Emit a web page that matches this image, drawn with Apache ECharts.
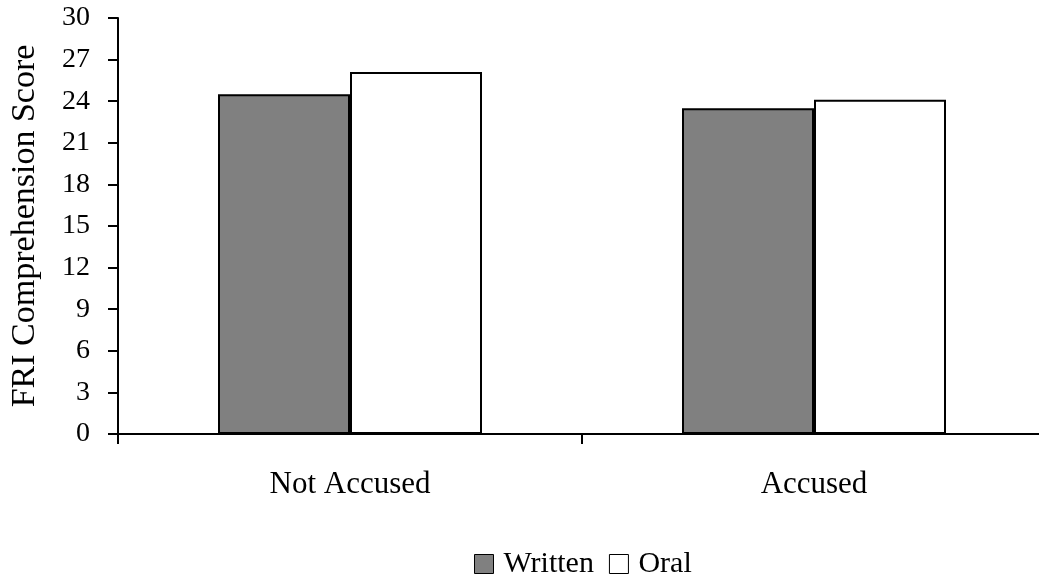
<!DOCTYPE html>
<html>
<head>
<meta charset="utf-8">
<script src="https://cdn.jsdelivr.net/npm/echarts@6/dist/echarts.min.js"></script>
<style>
html,body{margin:0;padding:0;background:#fff;overflow:hidden;width:1039px;height:579px;}
#c{width:1046px;height:579px;}
</style>
</head>
<body>
<div id="c"></div>
<script>
const categories = ['Not Accused', 'Accused'];
const seriesNames = ['Written', 'Oral'];
const writtenValues = [24.5, 23.5];
const oralValues = [26.1, 24.1];
const yTicks = { min: 0, max: 30, interval: 3 };
const axisTitle = 'FRI Comprehension Score';

const FONT = 'Liberation Serif, Times New Roman, serif';
const chart = echarts.init(document.getElementById('c'), null, { renderer: 'canvas' });
chart.setOption({
  animation: false,
  backgroundColor: '#fff',
  textStyle: { fontFamily: FONT, color: '#000' },
  grid: { left: 118, top: 18, right: 0, bottom: 145, containLabel: false },
  legend: {
    data: seriesNames,
    left: 474, top: 549, padding: 0,
    icon: 'rect', itemWidth: 19, itemHeight: 19, itemGap: 15,
    itemStyle: { borderColor: '#000', borderWidth: 1 },
    textStyle: { fontFamily: FONT, fontSize: 30, color: '#000', padding: [0, 0, 0, 5] }
  },
  xAxis: {
    type: 'category',
    data: categories,
    axisLine: { lineStyle: { color: '#000', width: 2 } },
    axisTick: { show: true, length: 10, alignWithLabel: false, lineStyle: { color: '#000', width: 2 } },
    axisLabel: { fontFamily: FONT, fontSize: 31, color: '#000', margin: 35 },
    splitLine: { show: false }
  },
  yAxis: {
    type: 'value',
    min: yTicks.min, max: yTicks.max, interval: yTicks.interval,
    name: axisTitle,
    nameLocation: 'middle',
    nameRotate: 90,
    nameGap: 76,
    nameTextStyle: { fontFamily: FONT, fontSize: 34, color: '#000' },
    axisLine: { show: true, lineStyle: { color: '#000', width: 2 } },
    axisTick: { show: true, length: 10, lineStyle: { color: '#000', width: 2 } },
    axisLabel: { fontFamily: FONT, fontSize: 28, color: '#000', margin: 28 },
    splitLine: { show: false }
  },
  series: [
    {
      name: seriesNames[0], type: 'bar', data: writtenValues,
      barWidth: 132, barGap: '0%',
      itemStyle: { color: '#808080', borderColor: '#000', borderWidth: 2 }
    },
    {
      name: seriesNames[1], type: 'bar', data: oralValues,
      barWidth: 132, barGap: '0%',
      itemStyle: { color: '#ffffff', borderColor: '#000', borderWidth: 2 }
    }
  ]
});
</script>
</body>
</html>
